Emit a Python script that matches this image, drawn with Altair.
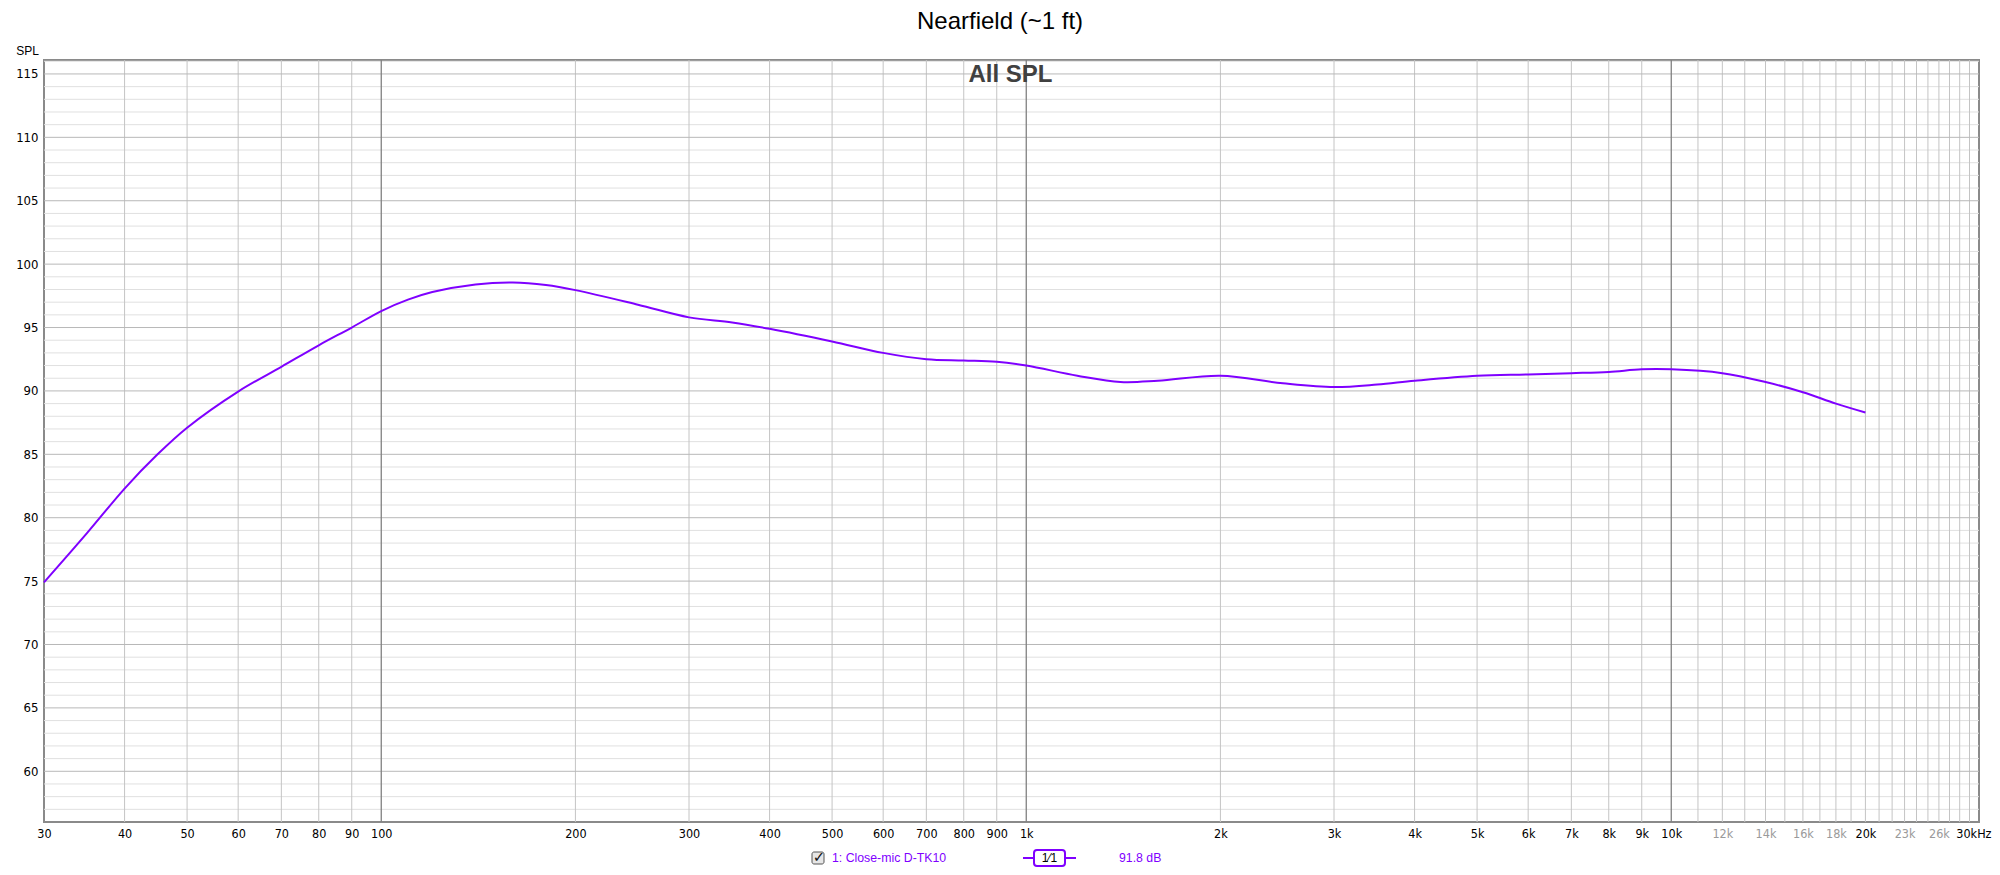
import altair as alt
import pandas as pd

# ---- data ----
freq_hz = [30, 35, 40, 45, 50, 60, 70, 80, 90, 100, 110, 120, 140, 160, 180, 200, 250, 300, 350, 400,
           500, 600, 700, 800, 900, 1000, 1200, 1400, 1600, 2000, 2500, 3000, 3500, 4000,
           5000, 6000, 7000, 8000, 9000, 10000, 12000, 14000, 16000, 18000, 20000]
spl_db = [74.9, 78.8, 82.3, 85.0, 87.1, 89.95, 91.9, 93.6, 95.0, 96.3, 97.2, 97.8, 98.4, 98.55, 98.35, 97.95,
          96.8, 95.8, 95.4, 94.9, 93.9, 93.0, 92.5, 92.4, 92.3, 92.0, 91.2, 90.7, 90.8, 91.2,
          90.6, 90.3, 90.5, 90.8, 91.2, 91.3, 91.4, 91.5, 91.7, 91.7, 91.4, 90.7, 89.9, 89.0, 88.3]

x_tick_values = [30, 40, 50, 60, 70, 80, 90, 100, 200, 300, 400, 500, 600, 700, 800, 900,
                 1000, 2000, 3000, 4000, 5000, 6000, 7000, 8000, 9000, 10000,
                 12000, 14000, 16000, 18000, 20000, 23000, 26000, 30000]
x_grey_labels = [12000, 14000, 16000, 18000, 23000, 26000]
x_grid_decades = [100, 1000, 10000]
x_grid_lines = [40, 50, 60, 70, 80, 90, 200, 300, 400, 500, 600, 700, 800, 900,
                2000, 3000, 4000, 5000, 6000, 7000, 8000, 9000] + [k * 1000 for k in range(11, 30)]
y_tick_values = [60, 65, 70, 75, 80, 85, 90, 95, 100, 105, 110, 115]
y_grid_minor = [v for v in range(57, 117) if v % 5 != 0]

title_text = "Nearfield (~1 ft)"
inner_title = "All SPL"
legend_label = "1: Close-mic D-TK10"
legend_value = "91.8 dB"
legend_smooth = "1⁄1"

X_DOMAIN = [30, 30000]
Y_DOMAIN = [56.0, 116.1]
W, H = 1935, 762
PURPLE = "#7f00ff"
TICKFONT = "DejaVu Sans Condensed, Liberation Sans Narrow, sans-serif"
SANS = "Liberation Sans, Arial, sans-serif"

curve = pd.DataFrame({"f": freq_hz, "spl": spl_db})
xscale = alt.Scale(type="log", domain=X_DOMAIN, nice=False)
yscale = alt.Scale(domain=Y_DOMAIN, nice=False, zero=False)

grey_test = "indexof(" + str(x_grey_labels).replace(" ", "") + ", datum.value) >= 0"
last_test = "datum.value >= 30000"
x_axis = alt.Axis(
    values=x_tick_values, grid=False, ticks=False, domain=False, title=None,
    labelExpr="datum.value >= 30000 ? '30kHz' : (datum.value >= 1000 ? (datum.value/1000) + 'k' : datum.value)",
    labelColor=alt.condition(grey_test, alt.value("#9a9a9a"), alt.value("#000000")),
    labelAlign=alt.condition(last_test, alt.value("right"), alt.value("center")),
    labelOffset=alt.condition(last_test, alt.value(12), alt.value(0)),
    labelFont=TICKFONT, labelFontSize=12.5, labelPadding=5, labelOverlap=False,
    labelFlush=False, labelBound=False,
)
y_axis = alt.Axis(
    values=y_tick_values, grid=False, ticks=False, domain=False,
    title="SPL", titleAngle=0, titleX=-17, titleY=-10, titleAlign="center",
    titleBaseline="middle", titleFont=SANS, titleFontSize=12, titleFontWeight="normal",
    titleColor="#000000",
    labelFont=TICKFONT, labelFontSize=13, labelPadding=6, labelColor="#000000",
)

# grid layers (share the same axis definitions so the merged axes keep their labels)
ygrid_minor = alt.Chart(pd.DataFrame({"y": y_grid_minor})).mark_rule(
    color="#e0e0e0", strokeWidth=1).encode(y=alt.Y("y:Q", scale=yscale, axis=y_axis))
ygrid_major = alt.Chart(pd.DataFrame({"y": y_tick_values})).mark_rule(
    color="#b8b8b8", strokeWidth=1).encode(y=alt.Y("y:Q", scale=yscale, axis=y_axis))
xgrid = alt.Chart(pd.DataFrame({"f": x_grid_lines})).mark_rule(
    color="#c4c4c4", strokeWidth=1).encode(x=alt.X("f:Q", scale=xscale, axis=x_axis))
xgrid_dec = alt.Chart(pd.DataFrame({"f": x_grid_decades})).mark_rule(
    color="#808080", strokeWidth=1.3).encode(x=alt.X("f:Q", scale=xscale, axis=x_axis))

line = alt.Chart(curve).mark_line(color=PURPLE, strokeWidth=2, interpolate="catmull-rom").encode(
    x=alt.X("f:Q", scale=xscale, axis=x_axis),
    y=alt.Y("spl:Q", scale=yscale, axis=y_axis),
)

one = pd.DataFrame({"a": [0]})
title_mark = alt.Chart(one).mark_text(
    text=title_text, font=SANS, fontSize=24, color="#000000", align="center", baseline="middle"
).encode(x=alt.value(956), y=alt.value(-38))
inner_mark = alt.Chart(one).mark_text(
    text=inner_title, font=SANS, fontSize=24, fontWeight="bold", color="#404040",
    align="center", baseline="middle"
).encode(x=alt.value(W / 2 - 1), y=alt.value(15))

# legend below the plot
LY = 798
check_box = alt.Chart(one).mark_rect(
    fill="#e6e6e6", stroke="#555555", strokeWidth=1, cornerRadius=2
).encode(x=alt.value(768), x2=alt.value(780), y=alt.value(LY - 6), y2=alt.value(LY + 6))
check_mark = alt.Chart(one).mark_text(
    text="✓", font="DejaVu Sans", fontSize=15, fontWeight="bold", color="#111111",
    align="center", baseline="middle"
).encode(x=alt.value(775), y=alt.value(LY - 1))
leg_text = alt.Chart(one).mark_text(
    text=legend_label, font=SANS, fontSize=12.3, color=PURPLE, align="left", baseline="middle"
).encode(x=alt.value(788), y=alt.value(LY))
leg_line = alt.Chart(one).mark_rule(color=PURPLE, strokeWidth=2).encode(
    x=alt.value(979), x2=alt.value(1032), y=alt.value(LY))
leg_box = alt.Chart(one).mark_rect(
    fill="white", stroke=PURPLE, strokeWidth=2, cornerRadius=3
).encode(x=alt.value(990), x2=alt.value(1021), y=alt.value(LY - 8), y2=alt.value(LY + 8))
leg_box_text = alt.Chart(one).mark_text(
    text=legend_smooth, font=SANS, fontSize=12, color="#000000", align="center", baseline="middle"
).encode(x=alt.value(1005.5), y=alt.value(LY))
leg_val = alt.Chart(one).mark_text(
    text=legend_value, font=SANS, fontSize=12.3, color=PURPLE, align="left", baseline="middle"
).encode(x=alt.value(1075), y=alt.value(LY))

chart = alt.layer(
    ygrid_minor, xgrid, ygrid_major, xgrid_dec, line,
    title_mark, inner_mark, check_box, check_mark, leg_text, leg_line, leg_box, leg_box_text, leg_val,
).properties(
    width=W, height=H,
    autosize=alt.AutoSizeParams(type="none"),
    padding={"left": 36, "top": 52, "right": 13, "bottom": 47},
    background="white",
).configure_view(stroke="#8a8a8a", strokeWidth=2)

chart.save("out.html", embed_options={"renderer": "svg", "actions": False})
